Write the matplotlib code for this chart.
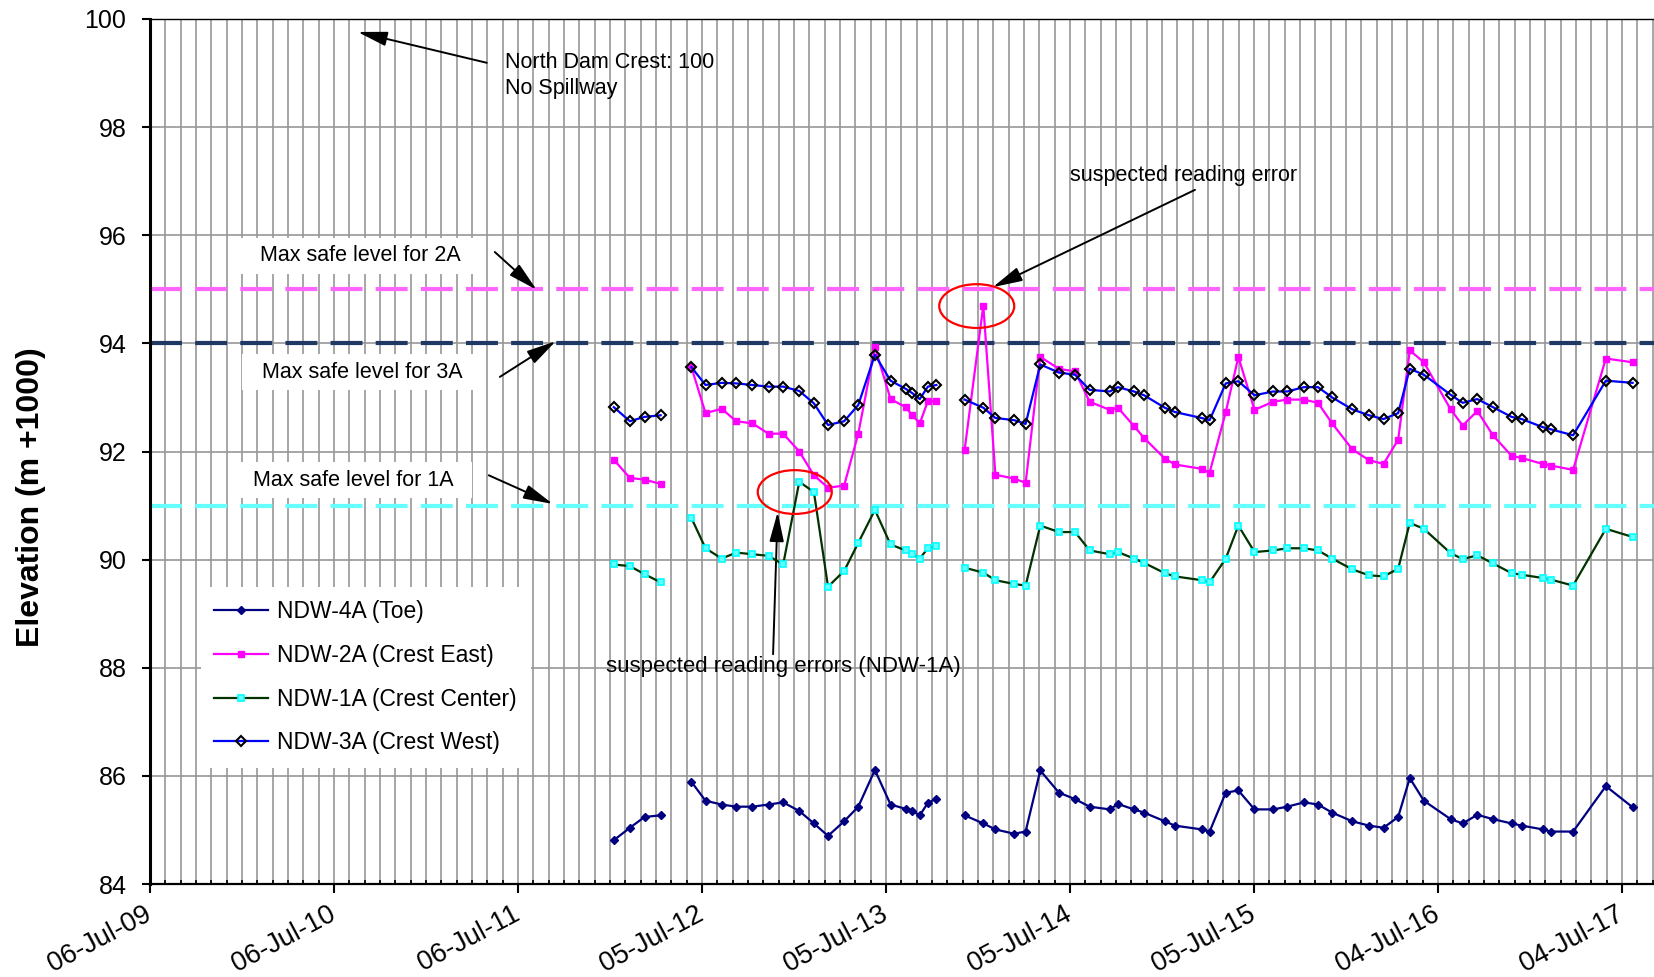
import numpy as np
import matplotlib
matplotlib.use('Agg')
import matplotlib.pyplot as plt
import matplotlib.dates as mdates
from matplotlib.patches import Ellipse

plt.rcParams['font.family'] = ['Liberation Sans', 'DejaVu Sans']
plt.rcParams['lines.scale_dashes'] = False

nan = np.nan

# reading dates (nan rows = no reading, line breaks there)
dates = ['2012-01-12', '2012-02-13', '2012-03-13', '2012-04-14', '2012-05-14',
         '2012-06-14', '2012-07-12', '2012-08-13', '2012-09-11', '2012-10-13', '2012-11-14', '2012-12-13',
         '2013-01-14', '2013-02-12', '2013-03-12', '2013-04-13', '2013-05-11', '2013-06-13', '2013-07-14',
         '2013-08-13', '2013-08-26', '2013-09-10', '2013-09-26', '2013-10-13', '2013-11-10',
         '2013-12-08', '2014-01-14', '2014-02-07', '2014-03-16', '2014-04-08', '2014-05-07', '2014-06-13',
         '2014-07-15', '2014-08-13', '2014-09-22', '2014-10-08', '2014-11-09', '2014-11-29',
         '2015-01-09', '2015-01-29', '2015-03-23', '2015-04-08', '2015-05-10', '2015-06-04', '2015-07-06',
         '2015-08-12', '2015-09-09', '2015-10-12', '2015-11-09', '2015-12-07',
         '2016-01-16', '2016-02-18', '2016-03-18', '2016-04-16', '2016-05-09', '2016-06-06', '2016-07-29',
         '2016-08-22', '2016-09-20', '2016-10-21', '2016-11-27', '2016-12-17',
         '2017-01-28', '2017-02-13', '2017-03-29', '2017-06-02', '2017-07-25']

ndw_4a = [84.81, 85.04, 85.24, 85.27, nan,
          85.89, 85.54, 85.47, 85.43, 85.43, 85.47, 85.51,
          85.35, 85.12, 84.89, 85.16, 85.43, 86.11, 85.47,
          85.39, 85.35, 85.27, 85.50, 85.58, nan,
          85.27, 85.12, 85.01, 84.93, 84.97, 86.10, 85.69,
          85.57, 85.43, 85.38, 85.48, 85.38, 85.32,
          85.16, 85.08, 85.01, 84.97, 85.69, 85.73, 85.38,
          85.38, 85.43, 85.51, 85.47, 85.32,
          85.16, 85.08, 85.04, 85.24, 85.96, 85.54, 85.20,
          85.12, 85.28, 85.20, 85.12, 85.08,
          85.01, 84.97, 84.97, 85.81, 85.42]

ndw_2a = [91.85, 91.51, 91.48, 91.40, nan,
          93.56, 92.71, 92.79, 92.56, 92.52, 92.33, 92.33,
          92.00, 91.56, 91.33, 91.37, 92.33, 93.93, 92.97,
          92.82, 92.67, 92.52, 92.93, 92.93, nan,
          92.03, 94.70, 91.57, 91.50, 91.42, 93.75, 93.53,
          93.48, 92.92, 92.77, 92.81, 92.47, 92.25,
          91.87, 91.76, 91.68, 91.61, 92.73, 93.75, 92.77,
          92.92, 92.96, 92.96, 92.90, 92.52,
          92.04, 91.84, 91.77, 92.22, 93.87, 93.65, 92.78,
          92.48, 92.75, 92.30, 91.92, 91.88,
          91.77, 91.74, 91.66, 93.72, 93.65]

ndw_1a = [89.91, 89.88, 89.73, 89.58, nan,
          90.77, 90.21, 90.02, 90.13, 90.10, 90.07, 89.91,
          91.44, 91.25, 89.50, 89.79, 90.31, 90.92, 90.28,
          90.17, 90.10, 90.02, 90.21, 90.25, nan,
          89.85, 89.76, 89.62, 89.55, 89.52, 90.63, 90.51,
          90.51, 90.17, 90.10, 90.14, 90.02, 89.94,
          89.75, 89.69, 89.62, 89.58, 90.02, 90.63, 90.14,
          90.17, 90.21, 90.21, 90.17, 90.02,
          89.82, 89.71, 89.69, 89.83, 90.68, 90.57, 90.12,
          90.01, 90.08, 89.93, 89.75, 89.72,
          89.66, 89.63, 89.52, 90.57, 90.42]

ndw_3a = [92.82, 92.56, 92.64, 92.67, nan,
          93.56, 93.23, 93.27, 93.26, 93.23, 93.20, 93.20,
          93.12, 92.89, 92.49, 92.56, 92.86, 93.79, 93.31,
          93.16, 93.08, 92.97, 93.20, 93.23, nan,
          92.96, 92.81, 92.62, 92.58, 92.51, 93.61, 93.46,
          93.42, 93.14, 93.11, 93.19, 93.11, 93.04,
          92.81, 92.73, 92.62, 92.58, 93.26, 93.30, 93.04,
          93.11, 93.11, 93.19, 93.19, 93.00,
          92.78, 92.67, 92.60, 92.71, 93.53, 93.42, 93.05,
          92.90, 92.97, 92.82, 92.64, 92.60,
          92.45, 92.41, 92.30, 93.31, 93.27]

max_2a = 95
max_3a = 94
max_1a = 91


def d(s):
    return mdates.date2num(np.datetime64(s))


x = mdates.date2num(np.array(dates, dtype='datetime64[D]'))

fig = plt.figure(figsize=(16.54, 9.77), dpi=100)
ax = fig.add_axes([150 / 1654, 93 / 977, 1504 / 1654, 865 / 977])

# axes / grid, excel style: 365 day major unit, monthly minor
base = d('2009-07-06')
ax.set_xlim(base, base + 2983.5)
ax.set_ylim(84, 100)
ax.set_xticks(base + 365 * np.arange(9))
ax.set_xticks(base + 365 / 12 * np.arange(99), minor=True)
ax.xaxis.set_major_formatter(mdates.DateFormatter('%d-%b-%y'))
ax.set_yticks(np.arange(84, 101, 2))
ax.grid(which='both', axis='x', color='#979797', lw=1.2)
ax.grid(which='major', axis='y', color='#979797', lw=1.2)
ax.tick_params(axis='x', which='major', direction='out', length=6.5, width=1.5,
               labelsize=19.5, pad=14)
ax.tick_params(axis='x', which='minor', direction='in', length=3.2, width=1.2)
ax.tick_params(axis='y', which='major', direction='out', length=6, width=1.5,
               labelsize=18, pad=11)
for lab in ax.get_xticklabels():
    lab.set_rotation(28)
    lab.set_ha('right')
    lab.set_va('center')
    lab.set_rotation_mode('anchor')
ax.spines['right'].set_visible(False)
ax.spines['left'].set_linewidth(2.2)
ax.spines['bottom'].set_linewidth(1.6)
ax.spines['top'].set_linewidth(1.0)

ax.set_ylabel('Elevation (m +1000)', fontsize=23, fontweight='bold')
ax.yaxis.set_label_coords(-0.069, 0.447)

# max safe levels
ax.axhline(max_2a, color='#FF66FF', lw=3, dashes=(23, 9.5), zorder=2)
ax.axhline(max_3a, color='#1F3864', lw=3, dashes=(23, 9.5), zorder=2)
ax.axhline(max_1a, color='#66FFFF', lw=3, dashes=(23, 9.5), zorder=2)

# series
ax.plot(x, ndw_4a, color='#000080', lw=1.6, marker='D', ms=3.6,
        mfc='#000080', mec='#000080', label='NDW-4A (Toe)', zorder=4)
ax.plot(x, ndw_2a, color='#FF00FF', lw=1.6, marker='s', ms=4.8,
        mfc='#FF00FF', mec='#FF00FF', label='NDW-2A (Crest East)', zorder=4)
ax.plot(x, ndw_1a, color='#003300', lw=1.6, marker='s', ms=4.8,
        mfc='#66FFFF', mec='#00FFFF', mew=1.2, label='NDW-1A (Crest Center)', zorder=4)
ax.plot(x, ndw_3a, color='#0000FF', lw=1.6, marker='D', ms=5.6,
        mfc='none', mec='black', mew=1.5, label='NDW-3A (Crest West)', zorder=5)

leg = ax.legend(loc='upper left', bbox_to_anchor=(0.026, 0.357), fontsize=16.5,
                frameon=True, fancybox=False, framealpha=1, edgecolor='none',
                labelspacing=0.9, handlelength=2.35, handletextpad=0.4,
                borderpad=0.6)
leg.set_zorder(6)

# annotations
arrow = dict(arrowstyle='-|>,head_length=0.9,head_width=0.22', color='black',
             lw=1.4, mutation_scale=20, shrinkA=0, shrinkB=0)
box = dict(boxstyle='square,pad=0.35', fc='white', ec='none')
tfs = 15.5

ax.text(d('2011-06-10'), 98.96, 'North Dam Crest: 100\nNo Spillway', fontsize=tfs,
        ha='left', va='center', linespacing=1.3)
ax.annotate('', xy=(d('2010-08-22'), 99.76), xytext=(d('2011-05-05'), 99.19),
            arrowprops=arrow)

ax.text(d('2010-08-26'), 95.62, '  Max safe level for 2A  ', fontsize=tfs,
        ha='center', va='center', bbox=box)
ax.annotate('', xy=(d('2011-08-12'), 94.99), xytext=(d('2011-05-21'), 95.69),
            arrowprops=arrow)

ax.text(d('2010-08-30'), 93.47, '  Max safe level for 3A  ', fontsize=tfs,
        ha='center', va='center', bbox=box)
ax.annotate('', xy=(d('2011-09-19'), 94.04), xytext=(d('2011-05-31'), 93.38),
            arrowprops=arrow)

ax.text(d('2010-08-12'), 91.47, '  Max safe level for 1A  ', fontsize=tfs,
        ha='center', va='center', bbox=box)
ax.annotate('', xy=(d('2011-09-13'), 91.03), xytext=(d('2011-05-09'), 91.56),
            arrowprops=arrow)

ax.text(d('2014-07-05'), 97.11, 'suspected reading error', fontsize=tfs,
        ha='left', va='center')
ax.annotate('', xy=(d('2014-02-02'), 95.04), xytext=(d('2015-03-10'), 96.84),
            arrowprops=arrow)

ax.text(d('2011-12-27'), 88.02, 'suspected reading errors (NDW-1A)', fontsize=16,
        ha='left', va='center')
ax.annotate('', xy=(d('2012-12-02'), 90.88), xytext=(d('2012-11-23'), 88.25),
            arrowprops=arrow)

ax.add_patch(Ellipse((d('2014-01-01'), 94.69), 148.8, 0.81, fill=False,
                     ec='red', lw=1.6, zorder=6))
ax.add_patch(Ellipse((d('2013-01-05'), 91.25), 146.8, 0.81, fill=False,
                     ec='red', lw=1.6, zorder=6))

fig.savefig('out.png', dpi=100)
